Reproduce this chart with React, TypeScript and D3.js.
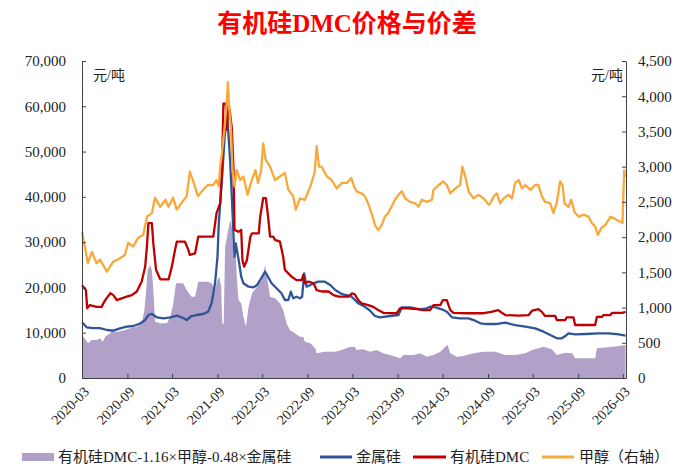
import React, { useEffect, useRef } from 'react';
import * as d3 from 'd3';

type Pt = [string, number];

const chartTitle = '有机硅DMC价格与价差';
const unitLabel = '元/吨';
const xTickLabels = [
  '2020-03', '2020-09', '2021-03', '2021-09', '2022-03', '2022-09', '2023-03',
  '2023-09', '2024-03', '2024-09', '2025-03', '2025-09', '2026-03',
];
const leftTicks = [0, 10000, 20000, 30000, 40000, 50000, 60000, 70000];
const rightTicks = [0, 500, 1000, 1500, 2000, 2500, 3000, 3500, 4000, 4500];
const legendLabels = ['有机硅DMC-1.16×甲醇-0.48×金属硅', '金属硅', '有机硅DMC', '甲醇（右轴）'];

// 价差 (left axis)
const spreadData: Pt[] = [
  ['2020-03-01', 10200], ['2020-03-06', 9100], ['2020-03-26', 7660], ['2020-04-09', 8390],
  ['2020-04-29', 8390], ['2020-05-13', 8770], ['2020-05-24', 8010], ['2020-06-03', 9120],
  ['2020-06-24', 9870], ['2020-07-01', 10970], ['2020-07-06', 10230], ['2020-07-26', 10230],
  ['2020-08-22', 10600], ['2020-09-12', 10970], ['2020-10-09', 11330], ['2020-10-29', 12080],
  ['2020-11-09', 15010], ['2020-11-16', 19430], ['2020-11-22', 23850], ['2020-12-02', 24950],
  ['2020-12-09', 23850], ['2020-12-15', 19430], ['2020-12-22', 12430], ['2021-01-12', 12080],
  ['2021-02-08', 12080], ['2021-02-22', 13540], ['2021-03-06', 16490], ['2021-03-17', 20910],
  ['2021-04-15', 20910], ['2021-04-29', 19430], ['2021-05-19', 17950], ['2021-06-02', 17950],
  ['2021-06-15', 21270], ['2021-07-25', 21270], ['2021-08-08', 20910], ['2021-08-22', 19430],
  ['2021-09-01', 21640], ['2021-09-09', 22370], ['2021-09-16', 20000], ['2021-09-20', 12000],
  ['2021-09-26', 12000], ['2021-10-02', 28990], ['2021-10-22', 34890], ['2021-10-29', 33420],
  ['2021-11-05', 26780], ['2021-11-12', 29740], ['2021-11-18', 22370], ['2021-11-25', 17220],
  ['2021-12-06', 16490], ['2021-12-15', 13540], ['2021-12-25', 11330], ['2022-01-05', 15740],
  ['2022-01-19', 18700], ['2022-02-08', 20160], ['2022-02-28', 21640], ['2022-03-13', 24950],
  ['2022-03-19', 22740], ['2022-04-02', 17950], ['2022-04-22', 17600], ['2022-05-12', 16490],
  ['2022-05-25', 15010], ['2022-06-08', 12080], ['2022-06-21', 10600], ['2022-07-11', 9870],
  ['2022-08-01', 9120], ['2022-08-14', 9120], ['2022-08-21', 8010], ['2022-09-12', 7660],
  ['2022-10-02', 6560], ['2022-10-08', 5450], ['2022-11-10', 5820], ['2022-12-22', 5820],
  ['2023-01-18', 6180], ['2023-02-14', 6780], ['2023-03-11', 6920], ['2023-03-18', 6180],
  ['2023-04-14', 6340], ['2023-05-12', 5820], ['2023-06-08', 6180], ['2023-07-05', 5450],
  ['2023-08-15', 4860], ['2023-09-11', 4350], ['2023-09-24', 5080], ['2023-11-04', 5080],
  ['2023-12-01', 5450], ['2023-12-28', 4700], ['2024-01-24', 5080], ['2024-02-21', 5820],
  ['2024-03-12', 6920], ['2024-03-21', 7290], ['2024-04-01', 5450], ['2024-04-28', 4700],
  ['2024-05-24', 4860], ['2024-06-20', 5300], ['2024-07-18', 5590], ['2024-08-14', 5820],
  ['2024-10-01', 5820], ['2024-11-10', 5080], ['2024-12-20', 5080], ['2025-01-30', 5450],
  ['2025-02-27', 6180], ['2025-03-24', 6560], ['2025-04-14', 6920], ['2025-05-17', 6340],
  ['2025-06-07', 5080], ['2025-07-11', 5590], ['2025-08-08', 5450], ['2025-08-20', 4350],
  ['2025-11-09', 4350], ['2025-11-16', 6560], ['2026-01-03', 6780], ['2026-02-13', 7070],
  ['2026-03-12', 7290],
];

// 金属硅 (left axis)
const siliconData: Pt[] = [
  ['2020-03-01', 12300], ['2020-03-20', 11200], ['2020-04-16', 11000], ['2020-05-13', 11000],
  ['2020-06-10', 10600], ['2020-07-06', 10450], ['2020-08-02', 10970], ['2020-08-29', 11330],
  ['2020-09-26', 11480], ['2020-10-24', 12080], ['2020-11-12', 12810], ['2020-11-25', 13910],
  ['2020-12-09', 14130], ['2020-12-29', 13400], ['2021-01-26', 13180], ['2021-02-22', 13400],
  ['2021-03-20', 13760], ['2021-04-09', 13400], ['2021-04-29', 12810], ['2021-05-19', 13690],
  ['2021-06-08', 13910], ['2021-07-05', 14130], ['2021-07-25', 14640], ['2021-08-08', 16490],
  ['2021-08-22', 20910], ['2021-09-01', 26780], ['2021-09-06', 34000], ['2021-09-19', 43720],
  ['2021-09-30', 53280], ['2021-10-09', 58450], ['2021-10-15', 54030], ['2021-10-22', 48130],
  ['2021-10-29', 40030], ['2021-11-05', 31200], ['2021-11-09', 26780], ['2021-11-14', 29740],
  ['2021-11-21', 27530], ['2021-11-28', 25320], ['2021-12-06', 22370], ['2021-12-15', 20910],
  ['2022-01-05', 20160], ['2022-01-25', 20020], ['2022-02-08', 20530], ['2022-02-25', 22010],
  ['2022-03-13', 23470], ['2022-03-23', 22520], ['2022-04-08', 20910], ['2022-04-28', 19810],
  ['2022-05-18', 18700], ['2022-06-01', 17220], ['2022-06-15', 17220], ['2022-06-25', 19060],
  ['2022-07-05', 17600], ['2022-07-18', 17950], ['2022-08-01', 17600], ['2022-08-10', 17950],
  ['2022-08-18', 23120], ['2022-08-28', 20160], ['2022-09-12', 20530], ['2022-09-25', 20910],
  ['2022-10-14', 21270], ['2022-11-10', 21270], ['2022-12-02', 20530], ['2022-12-22', 19430],
  ['2023-01-12', 18700], ['2023-02-01', 18330], ['2023-02-22', 18110], ['2023-03-05', 17600],
  ['2023-03-25', 16490], ['2023-04-21', 15740], ['2023-05-12', 14860], ['2023-06-01', 13690],
  ['2023-06-21', 13400], ['2023-08-01', 13690], ['2023-09-04', 13910], ['2023-09-18', 15610],
  ['2023-10-21', 15610], ['2023-12-01', 15170], ['2023-12-28', 15390], ['2024-01-10', 15740],
  ['2024-02-01', 15610], ['2024-02-27', 15170], ['2024-03-18', 14640], ['2024-04-08', 13400],
  ['2024-05-11', 13180], ['2024-06-14', 13180], ['2024-07-11', 12660], ['2024-08-01', 12080],
  ['2024-08-28', 11920], ['2024-10-01', 11920], ['2024-11-10', 12210], ['2024-12-20', 11700],
  ['2025-01-30', 11330], ['2025-03-11', 10970], ['2025-04-14', 10230], ['2025-05-11', 9500],
  ['2025-06-07', 8770], ['2025-06-27', 8770], ['2025-07-11', 9270], ['2025-07-24', 9870],
  ['2025-08-20', 9650], ['2025-09-30', 9720], ['2025-11-23', 9870], ['2026-01-03', 9870],
  ['2026-02-13', 9650], ['2026-03-12', 9340],
];

// 有机硅DMC (left axis)
const dmcData: Pt[] = [
  ['2020-03-01', 20500], ['2020-03-17', 19400], ['2020-03-22', 15400], ['2020-04-02', 16100],
  ['2020-04-29', 15700], ['2020-05-19', 15700], ['2020-06-03', 17200], ['2020-06-24', 18700],
  ['2020-07-06', 18300], ['2020-07-20', 17200], ['2020-08-09', 17600], ['2020-08-29', 17950],
  ['2020-09-19', 18300], ['2020-10-09', 19100], ['2020-10-29', 21300], ['2020-11-12', 24600],
  ['2020-11-19', 29000], ['2020-11-25', 34200], ['2020-12-09', 34200], ['2020-12-15', 29700],
  ['2020-12-26', 23900], ['2021-01-12', 21800], ['2021-02-15', 21800], ['2021-02-28', 24600],
  ['2021-03-13', 28300], ['2021-03-20', 30100], ['2021-04-22', 30100], ['2021-05-06', 28300],
  ['2021-05-12', 27200], ['2021-06-02', 27500], ['2021-06-15', 31200], ['2021-08-15', 31200],
  ['2021-08-28', 36400], ['2021-09-12', 38600], ['2021-09-19', 45900], ['2021-09-25', 60600],
  ['2021-10-05', 60600], ['2021-10-09', 54800], ['2021-10-15', 60600], ['2021-10-22', 58400],
  ['2021-10-29', 55100], ['2021-11-05', 45900], ['2021-11-09', 32700], ['2021-11-25', 32300],
  ['2021-12-06', 32700], ['2021-12-11', 26000], ['2021-12-18', 24600], ['2021-12-29', 26000],
  ['2022-01-12', 31200], ['2022-01-19', 31950], ['2022-02-15', 31950], ['2022-02-21', 35600],
  ['2022-03-05', 39700], ['2022-03-16', 39700], ['2022-03-25', 35600], ['2022-04-02', 31200],
  ['2022-04-15', 31200], ['2022-04-22', 30500], ['2022-05-12', 30100], ['2022-05-25', 26800],
  ['2022-06-01', 23900], ['2022-06-15', 23100], ['2022-06-28', 22400], ['2022-07-18', 21600],
  ['2022-08-08', 21600], ['2022-08-14', 22700], ['2022-08-21', 20900], ['2022-09-05', 21300],
  ['2022-09-25', 20900], ['2022-10-08', 19400], ['2022-10-28', 19100], ['2022-11-25', 19100],
  ['2022-12-15', 18300], ['2023-01-05', 17950], ['2023-02-14', 17950], ['2023-02-28', 18700],
  ['2023-03-11', 18500], ['2023-03-25', 17200], ['2023-04-08', 16500], ['2023-05-05', 16100],
  ['2023-05-25', 15700], ['2023-06-14', 15000], ['2023-07-05', 14400], ['2023-08-28', 14300],
  ['2023-09-11', 15400], ['2023-10-08', 15400], ['2023-11-18', 15200], ['2023-12-14', 15000],
  ['2024-01-10', 15000], ['2024-01-24', 16100], ['2024-02-21', 16100], ['2024-03-02', 17200],
  ['2024-03-18', 17200], ['2024-04-01', 15000], ['2024-04-14', 14400], ['2024-06-07', 14300],
  ['2024-07-18', 14300], ['2024-08-14', 14300], ['2024-09-14', 14600], ['2024-10-12', 15000],
  ['2024-10-27', 14400], ['2024-11-10', 13900], ['2025-01-03', 13760], ['2025-02-13', 13900],
  ['2025-02-27', 14900], ['2025-03-24', 15200], ['2025-04-07', 14600], ['2025-04-20', 13700],
  ['2025-05-31', 13700], ['2025-06-07', 12800], ['2025-07-11', 12800], ['2025-07-17', 13400],
  ['2025-08-13', 13400], ['2025-08-20', 11700], ['2025-11-09', 11700], ['2025-11-16', 13500],
  ['2025-12-07', 13500], ['2025-12-13', 13900], ['2026-01-10', 13900], ['2026-01-17', 14400],
  ['2026-02-27', 14400], ['2026-03-12', 14600],
];

// 甲醇 (right axis)
const methanolData: Pt[] = [
  ['2020-03-01', 2080], ['2020-03-25', 1630], ['2020-04-10', 1790], ['2020-04-29', 1630],
  ['2020-05-13', 1680], ['2020-06-10', 1510], ['2020-07-05', 1650], ['2020-08-02', 1700],
  ['2020-08-22', 1750], ['2020-09-04', 1920], ['2020-09-24', 1865], ['2020-10-14', 1990],
  ['2020-11-04', 2030], ['2020-11-19', 2290], ['2020-12-09', 2340], ['2020-12-22', 2560],
  ['2021-01-12', 2430], ['2021-02-02', 2530], ['2021-02-14', 2430], ['2021-03-05', 2560],
  ['2021-03-20', 2390], ['2021-04-09', 2490], ['2021-04-29', 2580], ['2021-05-12', 2930],
  ['2021-05-24', 2810], ['2021-06-14', 2580], ['2021-07-04', 2670], ['2021-07-24', 2740],
  ['2021-08-14', 2740], ['2021-08-28', 2810], ['2021-09-06', 2720], ['2021-09-12', 3000],
  ['2021-09-19', 3195], ['2021-09-30', 3570], ['2021-10-09', 3920], ['2021-10-13', 4200],
  ['2021-10-18', 3850], ['2021-10-25', 3570], ['2021-11-01', 2950], ['2021-11-09', 2720],
  ['2021-11-18', 2950], ['2021-12-02', 2810], ['2021-12-15', 2860], ['2022-01-01', 2600],
  ['2022-01-16', 2790], ['2022-02-02', 2950], ['2022-02-12', 2770], ['2022-02-25', 2950],
  ['2022-03-05', 3330], ['2022-03-15', 3100], ['2022-04-02', 3000], ['2022-04-22', 2810],
  ['2022-05-12', 2860], ['2022-06-01', 2910], ['2022-06-15', 2670], ['2022-07-05', 2580],
  ['2022-07-15', 2390], ['2022-08-01', 2550], ['2022-08-21', 2530], ['2022-09-12', 2720],
  ['2022-09-29', 2910], ['2022-10-08', 3290], ['2022-10-17', 3000], ['2022-10-28', 3000],
  ['2022-11-18', 2860], ['2022-12-08', 2810], ['2022-12-28', 2690], ['2023-01-18', 2770],
  ['2023-02-08', 2770], ['2023-02-25', 2840], ['2023-03-08', 2720], ['2023-03-18', 2650],
  ['2023-04-08', 2620], ['2023-04-21', 2580], ['2023-05-04', 2480], ['2023-05-18', 2340],
  ['2023-06-01', 2170], ['2023-06-14', 2100], ['2023-06-28', 2170], ['2023-07-11', 2290],
  ['2023-07-24', 2340], ['2023-08-07', 2430], ['2023-08-21', 2530], ['2023-09-04', 2600],
  ['2023-09-18', 2650], ['2023-10-01', 2550], ['2023-10-21', 2500], ['2023-11-11', 2480],
  ['2023-11-24', 2430], ['2023-12-08', 2530], ['2023-12-28', 2500], ['2024-01-18', 2530],
  ['2024-01-24', 2670], ['2024-02-14', 2740], ['2024-03-04', 2790], ['2024-03-18', 2740],
  ['2024-04-01', 2620], ['2024-04-21', 2690], ['2024-05-11', 2740], ['2024-05-20', 3000],
  ['2024-06-01', 2860], ['2024-06-14', 2650], ['2024-07-04', 2550], ['2024-07-24', 2600],
  ['2024-08-14', 2550], ['2024-09-04', 2460], ['2024-09-11', 2480], ['2024-09-24', 2580],
  ['2024-10-07', 2620], ['2024-10-20', 2480], ['2024-11-03', 2550], ['2024-11-23', 2600],
  ['2024-12-07', 2550], ['2024-12-20', 2770], ['2025-01-03', 2810], ['2025-01-17', 2690],
  ['2025-01-30', 2740], ['2025-02-20', 2670], ['2025-03-11', 2740], ['2025-03-24', 2740],
  ['2025-04-07', 2580], ['2025-04-20', 2500], ['2025-05-11', 2480], ['2025-05-24', 2340],
  ['2025-06-07', 2500], ['2025-06-20', 2790], ['2025-06-30', 2740], ['2025-07-08', 2480],
  ['2025-07-24', 2430], ['2025-08-04', 2530], ['2025-08-17', 2360], ['2025-09-03', 2290],
  ['2025-09-23', 2320], ['2025-10-13', 2290], ['2025-10-27', 2200], ['2025-11-09', 2150],
  ['2025-11-20', 2030], ['2025-12-04', 2130], ['2025-12-20', 2170], ['2026-01-10', 2290],
  ['2026-01-23', 2270], ['2026-02-06', 2240], ['2026-02-19', 2220], ['2026-02-28', 2200],
  ['2026-03-03', 2580], ['2026-03-07', 2950], ['2026-03-12', 2850],
];

const COLORS = {
  spread: '#b1a1c8',
  silicon: '#2f5597',
  dmc: '#c00000',
  methanol: '#f9a83a',
};

const serif = '"Liberation Serif", "Times New Roman", "Noto Sans CJK SC", serif';

export default function App() {
  const svgRef = useRef<SVGSVGElement>(null);

  useEffect(() => {
    if (!svgRef.current) return;
    const svg = d3.select(svgRef.current);
    svg.selectAll('*').remove();

    const left = 82, right = 626, top = 61, bottom = 378;
    const parse = d3.timeParse('%Y-%m-%d');
    const parseMonth = d3.timeParse('%Y-%m');

    const x = d3.scaleTime()
      .domain([parse('2020-03-01') as Date, parse('2026-03-14') as Date])
      .range([left, right]);
    const yL = d3.scaleLinear().domain([0, 70000]).range([bottom, top]);
    const yR = d3.scaleLinear().domain([0, 4500]).range([bottom, top]);

    // title
    svg.append('text')
      .attr('x', 347).attr('y', 32)
      .attr('text-anchor', 'middle')
      .style('font-family', serif)
      .style('font-size', '25px')
      .style('font-weight', 'bold')
      .style('fill', '#ff0000')
      .text(chartTitle);

    // spread area
    const area = d3.area<Pt>()
      .x(d => x(parse(d[0]) as Date))
      .y0(yL(0))
      .y1(d => yL(d[1]));
    svg.append('path')
      .datum(spreadData)
      .attr('d', area)
      .attr('fill', COLORS.spread);

    const lineL = d3.line<Pt>()
      .x(d => x(parse(d[0]) as Date))
      .y(d => yL(d[1]));
    const lineR = d3.line<Pt>()
      .x(d => x(parse(d[0]) as Date))
      .y(d => yR(d[1]));

    const drawLine = (data: Pt[], gen: d3.Line<Pt>, color: string) => {
      svg.append('path')
        .datum(data)
        .attr('d', gen)
        .attr('fill', 'none')
        .attr('stroke', color)
        .attr('stroke-width', 2.3)
        .attr('stroke-linejoin', 'round');
    };
    drawLine(siliconData, lineL, COLORS.silicon);
    drawLine(dmcData, lineL, COLORS.dmc);
    drawLine(methanolData, lineR, COLORS.methanol);

    // axes
    const styleAxis = (g: d3.Selection<SVGGElement, unknown, null, undefined>) => {
      g.selectAll('path.domain').attr('stroke', '#404040');
      g.selectAll('.tick line').attr('stroke', '#404040');
      g.selectAll('text')
        .style('font-family', serif)
        .style('font-size', '15px')
        .style('fill', '#222');
    };

    const gl = svg.append('g')
      .attr('transform', `translate(${left},0)`)
      .call(d3.axisLeft(yL).tickValues(leftTicks).tickSize(-4).tickSizeOuter(0)
        .tickPadding(16).tickFormat(d3.format(',')));
    styleAxis(gl);

    const gr = svg.append('g')
      .attr('transform', `translate(${right},0)`)
      .call(d3.axisRight(yR).tickValues(rightTicks).tickSize(-4).tickSizeOuter(0)
        .tickPadding(12).tickFormat(d3.format(',')));
    styleAxis(gr);

    const gb = svg.append('g')
      .attr('transform', `translate(0,${bottom})`)
      .call(d3.axisBottom(x)
        .tickValues(xTickLabels.map(s => parseMonth(s) as Date))
        .tickSize(-4).tickSizeOuter(0)
        .tickFormat(d => d3.timeFormat('%Y-%m')(d as Date)));
    styleAxis(gb);
    gb.selectAll('.tick text')
      .style('font-size', '14px')
      .attr('text-anchor', 'end')
      .attr('x', 0).attr('y', 0)
      .attr('dy', '0.35em')
      .attr('transform', 'translate(4,11) rotate(-45)');

    // unit labels
    svg.append('text')
      .attr('x', 93).attr('y', 80)
      .style('font-family', serif).style('font-size', '14px').style('fill', '#222')
      .text(unitLabel);
    svg.append('text')
      .attr('x', 623).attr('y', 80)
      .attr('text-anchor', 'end')
      .style('font-family', serif).style('font-size', '14px').style('fill', '#222')
      .text(unitLabel);

    // legend
    const ly = 457;
    const legend = svg.append('g');
    legend.append('rect')
      .attr('x', 22).attr('y', ly - 4).attr('width', 32).attr('height', 8)
      .attr('fill', COLORS.spread);
    const legendLines = [
      { x1: 320, x2: 352, color: COLORS.silicon },
      { x1: 413, x2: 446, color: COLORS.dmc },
      { x1: 542, x2: 574, color: COLORS.methanol },
    ];
    legendLines.forEach(l => {
      legend.append('line')
        .attr('x1', l.x1).attr('x2', l.x2)
        .attr('y1', ly).attr('y2', ly)
        .attr('stroke', l.color).attr('stroke-width', 3);
    });
    const textX = [58, 356, 450, 579];
    legendLabels.forEach((t, i) => {
      legend.append('text')
        .attr('x', textX[i]).attr('y', ly + 5)
        .style('font-family', serif).style('font-size', '15px').style('fill', '#222')
        .text(t);
    });
  }, []);

  return (
    <div style={{ position: 'absolute', left: 0, top: 0 }}>
      <svg ref={svgRef} width={677} height={467} style={{ display: 'block', background: '#fff' }}></svg>
    </div>
  );
}
